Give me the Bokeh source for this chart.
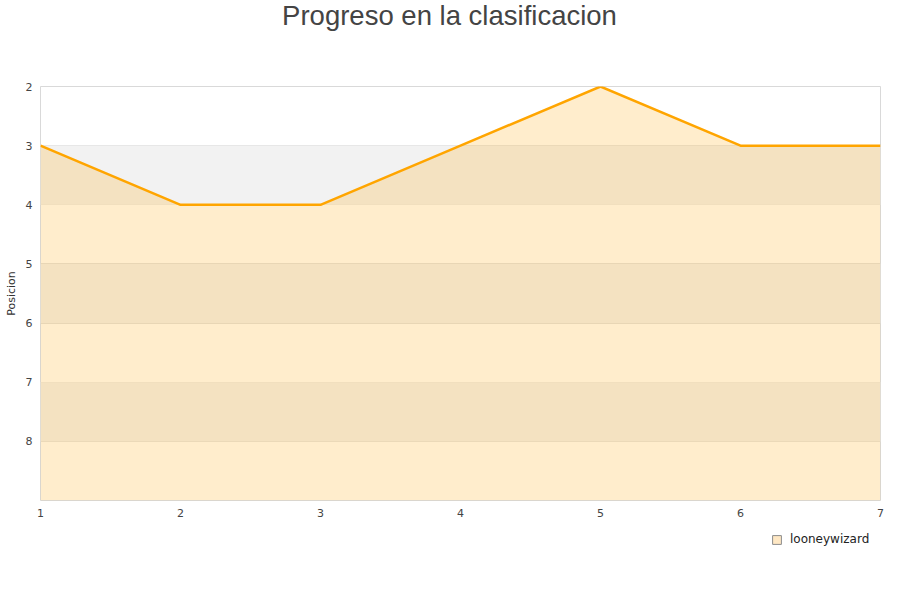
from bokeh.plotting import figure
from bokeh.models import Range1d, FixedTicker, BoxAnnotation, Legend, LegendItem, Label
from bokeh.layouts import column
from bokeh.embed import file_html
from bokeh.resources import INLINE

# data
rounds = [1, 2, 3, 4, 5, 6, 7]
positions = [3, 4, 4, 3, 2, 3, 3]
player = "looneywizard"
y_ticks = [2, 3, 4, 5, 6, 7, 8]
y_min, y_max = 2, 9
title_text = "Progreso en la clasificacion"
y_label = "Posicion"

W = 884
FRAME_LEFT = 40

def blank(fig):
    fig.axis.visible = False
    fig.grid.visible = False
    fig.outline_line_color = None
    fig.background_fill_color = "white"
    fig.border_fill_color = "white"

# header with title (frame aligned with the chart frame inside the column)
head = figure(width=W, height=36, output_backend="svg", toolbar_location=None,
              x_range=Range1d(0, 1), y_range=Range1d(0, 1),
              min_border_left=FRAME_LEFT, min_border_right=4, min_border_top=0, min_border_bottom=0)
blank(head)
head.add_layout(Label(x=449 - FRAME_LEFT, y=21, x_units="screen", y_units="screen", text=title_text,
                      text_align="center", text_baseline="middle",
                      text_font="Liberation Sans", text_font_size="27.5px", text_color="#444444"))

# main chart
p = figure(width=W, height=494, output_backend="svg", toolbar_location=None,
           x_range=Range1d(1, 7), y_range=Range1d(y_max, y_min),
           min_border_left=FRAME_LEFT, min_border_right=4, min_border_top=50, min_border_bottom=30)

p.outline_line_color = "#d9d9d9"
p.outline_line_width = 1
p.background_fill_color = "white"
p.border_fill_color = "white"

for lo in y_ticks[1::2]:
    p.add_layout(BoxAnnotation(bottom=lo, top=lo + 1, fill_color="#f2f2f2", fill_alpha=1,
                               line_alpha=0, level="underlay"))

p.xgrid.visible = False
p.ygrid.ticker = FixedTicker(ticks=y_ticks + [y_max])
p.ygrid.grid_line_color = "#e3e3e3"

p.varea(x=rounds, y1=positions, y2=[y_max] * len(rounds), fill_color="#ffa500", fill_alpha=0.2)
p.line(x=rounds, y=positions, line_color="#ffa500", line_width=2.5)

for ax in (p.xaxis[0], p.yaxis[0]):
    ax.axis_line_color = None
    ax.major_tick_line_color = None
    ax.minor_tick_line_color = None
    ax.major_tick_out = 0
    ax.major_tick_in = 0
    ax.minor_tick_out = 0
    ax.minor_tick_in = 0
    ax.major_label_text_font = "DejaVu Sans"
    ax.major_label_text_font_size = "11px"
    ax.major_label_text_color = "#444444"

p.xaxis.ticker = FixedTicker(ticks=rounds)
p.yaxis.ticker = FixedTicker(ticks=y_ticks)
p.xaxis.major_label_standoff = 8
p.yaxis.major_label_standoff = 8
p.yaxis.axis_label = y_label
p.yaxis.axis_label_text_font = "DejaVu Sans"
p.yaxis.axis_label_text_font_size = "11px"
p.yaxis.axis_label_text_font_style = "normal"
p.yaxis.axis_label_text_color = "#333333"
p.yaxis.axis_label_standoff = 5

# footer with legend; its ranges keep the series' swatch renderer out of view,
# so only its legend swatch is drawn
foot = figure(width=W, height=54, output_backend="svg", toolbar_location=None,
              x_range=Range1d(-1, 0), y_range=Range1d(-1, 0),
              min_border_left=FRAME_LEFT, min_border_right=4, min_border_top=0, min_border_bottom=0)
blank(foot)
swatch = foot.quad(left=rounds[:1], right=rounds[:1], top=positions[:1], bottom=positions[:1],
                   fill_color="#ffe8c4", line_color="#8c8c8c", line_width=1)
legend = Legend(items=[LegendItem(label=player, renderers=[swatch])],
                location=(771 - FRAME_LEFT, 35), border_line_color=None, background_fill_alpha=0,
                label_text_font="DejaVu Sans", label_text_font_size="12px", label_text_color="#222222",
                glyph_width=11, glyph_height=11, label_height=20,
                padding=0, margin=0, label_standoff=8)
foot.add_layout(legend)

layout = column(head, p, foot, spacing=0)
open("out.html", "w").write(file_html(layout, INLINE))
